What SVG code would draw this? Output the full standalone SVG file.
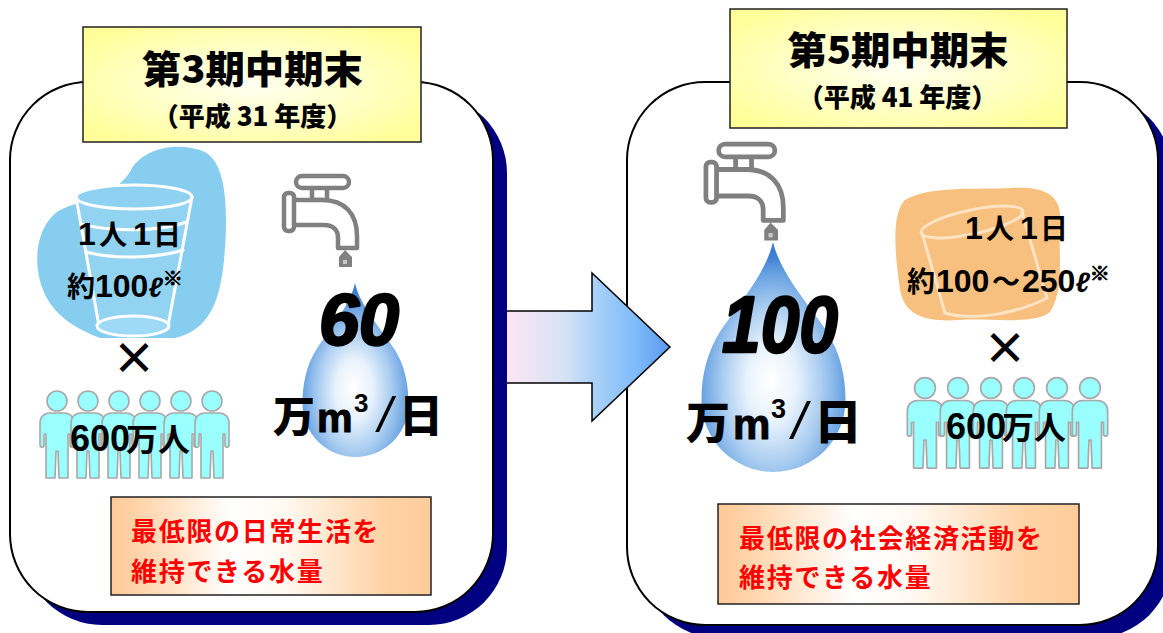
<svg xmlns="http://www.w3.org/2000/svg" xmlns:xlink="http://www.w3.org/1999/xlink" width="1163" height="633" viewBox="0 0 1163 633">
  <defs>
    <style>
      .panel{fill:#fff;stroke:#000;stroke-width:2}
      .shadow{fill:#000080}
      .title{fill:url(#gTitle);stroke:#222;stroke-width:1.5}
      .tt{font-family:"Noto Sans CJK JP",sans-serif;font-weight:900;fill:#000}
      .cj{font-family:"Noto Sans CJK JP",sans-serif;font-weight:bold;fill:#000}
      .lt{font-family:"Liberation Sans","Noto Sans CJK JP",sans-serif;font-weight:bold;fill:#000}
      .sl{font-family:"Liberation Sans",sans-serif;font-weight:normal;font-style:italic;fill:#000}
      .mk{font-family:"Noto Sans CJK JP",sans-serif;font-weight:900;fill:#000;stroke:#000;stroke-width:0.9}
      .red{font-family:"Noto Sans CJK JP",sans-serif;font-weight:bold;fill:#FF0000;font-size:26px;letter-spacing:1.7px}
      .note{fill:url(#gNote);stroke:#222;stroke-width:1.5}
      .tap{fill:#fff;stroke:#808080;stroke-width:4.5;stroke-linejoin:round}
      .person{fill:#99FFFF;stroke:#A8A8A8;stroke-width:1.6;stroke-linejoin:round}
      .big{font-family:"Liberation Sans",sans-serif;font-weight:bold;font-style:italic;fill:#000;stroke:#000;stroke-width:2.5;stroke-linejoin:round}
      .glass{fill:none;stroke:#fff;stroke-width:3;stroke-linecap:round}
      .glassO{fill:none;stroke:#FDE3C4;stroke-width:3;stroke-linecap:round}
    </style>
    <radialGradient id="gTitle" cx="0.5" cy="0.5" r="0.62">
      <stop offset="0" stop-color="#FFFFF2"/>
      <stop offset="0.55" stop-color="#FFFFC4"/>
      <stop offset="1" stop-color="#FFFF99"/>
    </radialGradient>
    <linearGradient id="gNote" x1="0" y1="0" x2="1" y2="0">
      <stop offset="0" stop-color="#FFC896"/>
      <stop offset="0.15" stop-color="#FFDDBB"/>
      <stop offset="0.38" stop-color="#FFFFFF"/>
      <stop offset="0.55" stop-color="#FFF8F0"/>
      <stop offset="0.85" stop-color="#FFD3A6"/>
      <stop offset="1" stop-color="#FFCC99"/>
    </linearGradient>
    <linearGradient id="gArrow" gradientUnits="userSpaceOnUse" x1="507" y1="0" x2="670" y2="0">
      <stop offset="0" stop-color="#FDE6F5"/>
      <stop offset="0.35" stop-color="#D6E2F4"/>
      <stop offset="0.55" stop-color="#A8D0F8"/>
      <stop offset="0.78" stop-color="#80BCFA"/>
      <stop offset="1" stop-color="#5A98EE"/>
    </linearGradient>
    <radialGradient id="gDrop" cx="0.5" cy="0.64" r="0.58" fx="0.48" fy="0.6">
      <stop offset="0" stop-color="#FFFFFF"/>
      <stop offset="0.3" stop-color="#E8F2FC"/>
      <stop offset="0.6" stop-color="#A8CCF0"/>
      <stop offset="0.85" stop-color="#6AA3E2"/>
      <stop offset="1" stop-color="#3D7FD0"/>
    </radialGradient>
    <!-- standing figure: head centre at 0,0, feet at y=77 -->
    <g id="person">
      <circle class="person" cx="0" cy="0" r="10"/>
      <path class="person" d="M-7,12 L7,12 C13,12 17,16 17,22 L17,44 C17,47 13,47 13,44 L13,33 L11,33 L11,77 L2,77 L1,50 L-1,50 L-2,77 L-11,77 L-11,33 L-13,33 L-13,44 C-13,47 -17,47 -17,44 L-17,22 C-17,16 -13,12 -7,12 Z"/>
    </g>
    <!-- water tap -->
    <g id="tap">
      <rect class="tap" x="312" y="187" width="15" height="13"/>
      <rect class="tap" x="296" y="176" width="53" height="12" rx="6"/>
      <path class="tap" d="M293,200 L322,200 C345,200 357,214 357,236 L357,248 L338,248 L338,238 C338,230 333,225 324,225 L293,225 Z"/>
      <rect class="tap" x="284" y="193" width="10" height="38" rx="4"/>
      <path d="M345,250 L352,257 L352,267 L339,267 L339,257 Z" fill="#808080"/>
      <path d="M343,260 L347,260 L347,264 L343,264 Z" fill="#C8C8C8"/>
    </g>
  </defs>

  <rect width="1163" height="633" fill="#fff"/>

  <!-- right panel: 5th mid-term -->
  <g id="panel-right">
    <rect class="shadow" x="641" y="95" width="531" height="543" rx="78"/>
    <rect class="panel" x="627" y="82" width="531" height="543" rx="78"/>
  </g>

  <!-- transition arrow -->
  <g id="connectors">
    <path d="M500,311 L592,311 L592,273 L670,347 L592,421 L592,383 L500,383 Z" fill="url(#gArrow)" stroke="#000" stroke-width="1.5" stroke-linejoin="miter"/>
  </g>

  <!-- left panel: 3rd mid-term -->
  <g id="panel-left">
    <rect class="shadow" x="24" y="95" width="483" height="530" rx="78"/>
    <rect class="panel" x="10" y="82" width="483" height="530" rx="78"/>
  </g>

  <!-- left title -->
  <g id="title-left">
    <rect class="title" x="83" y="27" width="338" height="115"/>
    <text class="tt" x="252.5" y="83" font-size="38" text-anchor="middle" textLength="221" lengthAdjust="spacingAndGlyphs">第3期中期末</text>
    <text class="tt" x="252.5" y="126" font-size="26" text-anchor="middle">（平成 31 年度）</text>
  </g>

  <!-- right title -->
  <g id="title-right">
    <rect class="title" x="730" y="9" width="337" height="119"/>
    <text class="tt" x="898" y="64" font-size="38" text-anchor="middle" textLength="221" lengthAdjust="spacingAndGlyphs">第5期中期末</text>
    <text class="tt" x="897.5" y="107" font-size="26" text-anchor="middle">（平成 41 年度）</text>
  </g>

  <!-- left: glass, per-person volume -->
  <g id="glass-left">
    <path d="M130,172 C140,150 175,140 205,152 C228,165 228,215 224,260 C220,300 210,330 175,338 L100,338 C80,330 60,320 48,300 C30,270 35,225 60,210 C85,198 110,200 130,172 Z" fill="#86CDEF"/>
    <path d="M76,197 L99,326 L168,326 L192,197 Z" fill="#92D3F2"/>
    <ellipse cx="134" cy="197" rx="58" ry="12" fill="#8ED1F1" stroke="#fff" stroke-width="3"/>
    <path class="glass" d="M76,197 L99,326 M192,197 L168,326"/>
    <path class="glass" d="M81,224 C110,232 158,232 187,222"/>
    <path class="glass" d="M86,252 C112,259 156,259 183,250"/>
    <ellipse cx="133" cy="326" rx="36" ry="10" fill="#9ED9F5" stroke="#fff" stroke-width="3"/>
    <text class="lt" y="245"><tspan x="78" font-size="32">1</tspan><tspan x="99" font-size="28" class="cj">人</tspan><tspan x="133" font-size="32">1</tspan><tspan x="153" font-size="28" class="cj">日</tspan></text>
    <text class="lt" y="297"><tspan x="67" font-size="28" class="cj">約</tspan><tspan x="95" font-size="32">100</tspan><tspan font-size="28" font-style="italic">ℓ</tspan><tspan class="mk" font-size="20" dy="-11">※</tspan></text>
  </g>

  <text id="times-left" class="cj" x="134" y="374" font-size="44" text-anchor="middle">×</text>

  <!-- left: population -->
  <g id="people-left">
    <use xlink:href="#person" x="57" y="401"/>
    <use xlink:href="#person" x="88" y="401"/>
    <use xlink:href="#person" x="119" y="401"/>
    <use xlink:href="#person" x="150" y="401"/>
    <use xlink:href="#person" x="181" y="401"/>
    <use xlink:href="#person" x="212" y="401"/>
    <text class="lt" y="451"><tspan x="70" font-size="36">600</tspan><tspan x="126" font-size="32" class="cj">万人</tspan></text>
  </g>

  <!-- left: tap and drop, 600k m3/day -->
  <g id="tap-left">
    <use xlink:href="#tap"/>
  </g>
  <g id="drop-left">
    <path d="M355,283 C360,305 378,325 395,350 C405,366 408.5,385 408.5,404 A53,53 0 0 1 302.5,404 C302.5,385 306,366 316,350 C333,325 350,305 355,283 Z" fill="url(#gDrop)"/>
    <text class="big" x="359" y="345" font-size="72" text-anchor="middle">60</text>
    <text y="432"><tspan class="tt" x="273" font-size="42">万</tspan><tspan class="lt" x="317" font-size="40" stroke="#000" stroke-width="1">m</tspan><tspan class="lt" x="354" y="412" font-size="26">3</tspan><tspan class="sl" x="378" y="432" font-size="50">/</tspan><tspan class="tt" x="399" font-size="44">日</tspan></text>
  </g>

  <!-- left note -->
  <g id="note-left">
    <rect class="note" x="111" y="497" width="320" height="98"/>
    <text class="red" x="131" y="541">最低限の日常生活を</text>
    <text class="red" x="131" y="581">維持できる水量</text>
  </g>

  <!-- right: tap and drop, 1M m3/day -->
  <g id="tap-right">
    <use xlink:href="#tap" transform="translate(707,143) scale(1.06) translate(-285,-175)"/>
  </g>
  <g id="drop-right">
    <path d="M773,242 C780,272 805,300 826,330 C840,352 845.5,375 845.5,400 A72,72 0 0 1 701.5,400 C701.5,375 707,352 721,330 C742,300 766,272 773,242 Z" fill="url(#gDrop)"/>
    <text class="big" x="780" y="352" font-size="80" text-anchor="middle" textLength="116" lengthAdjust="spacingAndGlyphs">100</text>
    <text y="439"><tspan class="tt" x="686" font-size="44">万</tspan><tspan class="lt" x="733" font-size="42" stroke="#000" stroke-width="1">m</tspan><tspan class="lt" x="771" y="418" font-size="27">3</tspan><tspan class="sl" x="792" y="439" font-size="52">/</tspan><tspan class="tt" x="814" font-size="48">日</tspan></text>
  </g>

  <!-- right: glass, per-person volume -->
  <g id="glass-right">
    <path d="M905,200 C930,185 980,190 1010,188 C1040,186 1062,192 1060,220 C1058,250 1065,290 1050,312 C1035,325 990,318 960,320 C930,322 905,318 900,290 C896,260 890,215 905,200 Z" fill="#F8C07E"/>
    <ellipse cx="972" cy="222" rx="52" ry="12" transform="rotate(-12 972 222)" class="glassO"/>
    <path class="glassO" d="M922,233 L945,313 M1022,212 L1047,298"/>
    <path class="glassO" d="M945,313 C975,322 1020,312 1047,298"/>
    <text class="lt" y="239"><tspan x="965" font-size="32">1</tspan><tspan x="986" font-size="28" class="cj">人</tspan><tspan x="1020" font-size="32">1</tspan><tspan x="1040" font-size="28" class="cj">日</tspan></text>
    <text class="lt" y="292"><tspan x="907" font-size="28" class="cj">約</tspan><tspan x="936" font-size="32">100</tspan><tspan x="992" font-size="28" class="cj">～</tspan><tspan x="1022" font-size="32">250</tspan><tspan font-size="28" font-style="italic">ℓ</tspan><tspan class="mk" font-size="20" dy="-11">※</tspan></text>
  </g>

  <text id="times-right" class="cj" x="1005" y="364" font-size="44" text-anchor="middle">×</text>

  <!-- right: population -->
  <g id="people-right">
    <use xlink:href="#person" transform="translate(925,388) scale(1.04)"/>
    <use xlink:href="#person" transform="translate(958,388) scale(1.04)"/>
    <use xlink:href="#person" transform="translate(991,388) scale(1.04)"/>
    <use xlink:href="#person" transform="translate(1024,388) scale(1.04)"/>
    <use xlink:href="#person" transform="translate(1057,388) scale(1.04)"/>
    <use xlink:href="#person" transform="translate(1090,388) scale(1.04)"/>
    <text class="lt" y="439"><tspan x="946" font-size="36">600</tspan><tspan x="1002" font-size="32" class="cj">万人</tspan></text>
  </g>

  <!-- right note -->
  <g id="note-right">
    <rect class="note" x="718" y="504" width="361" height="100"/>
    <text class="red" x="739" y="548">最低限の社会経済活動を</text>
    <text class="red" x="739" y="587">維持できる水量</text>
  </g>
</svg>
